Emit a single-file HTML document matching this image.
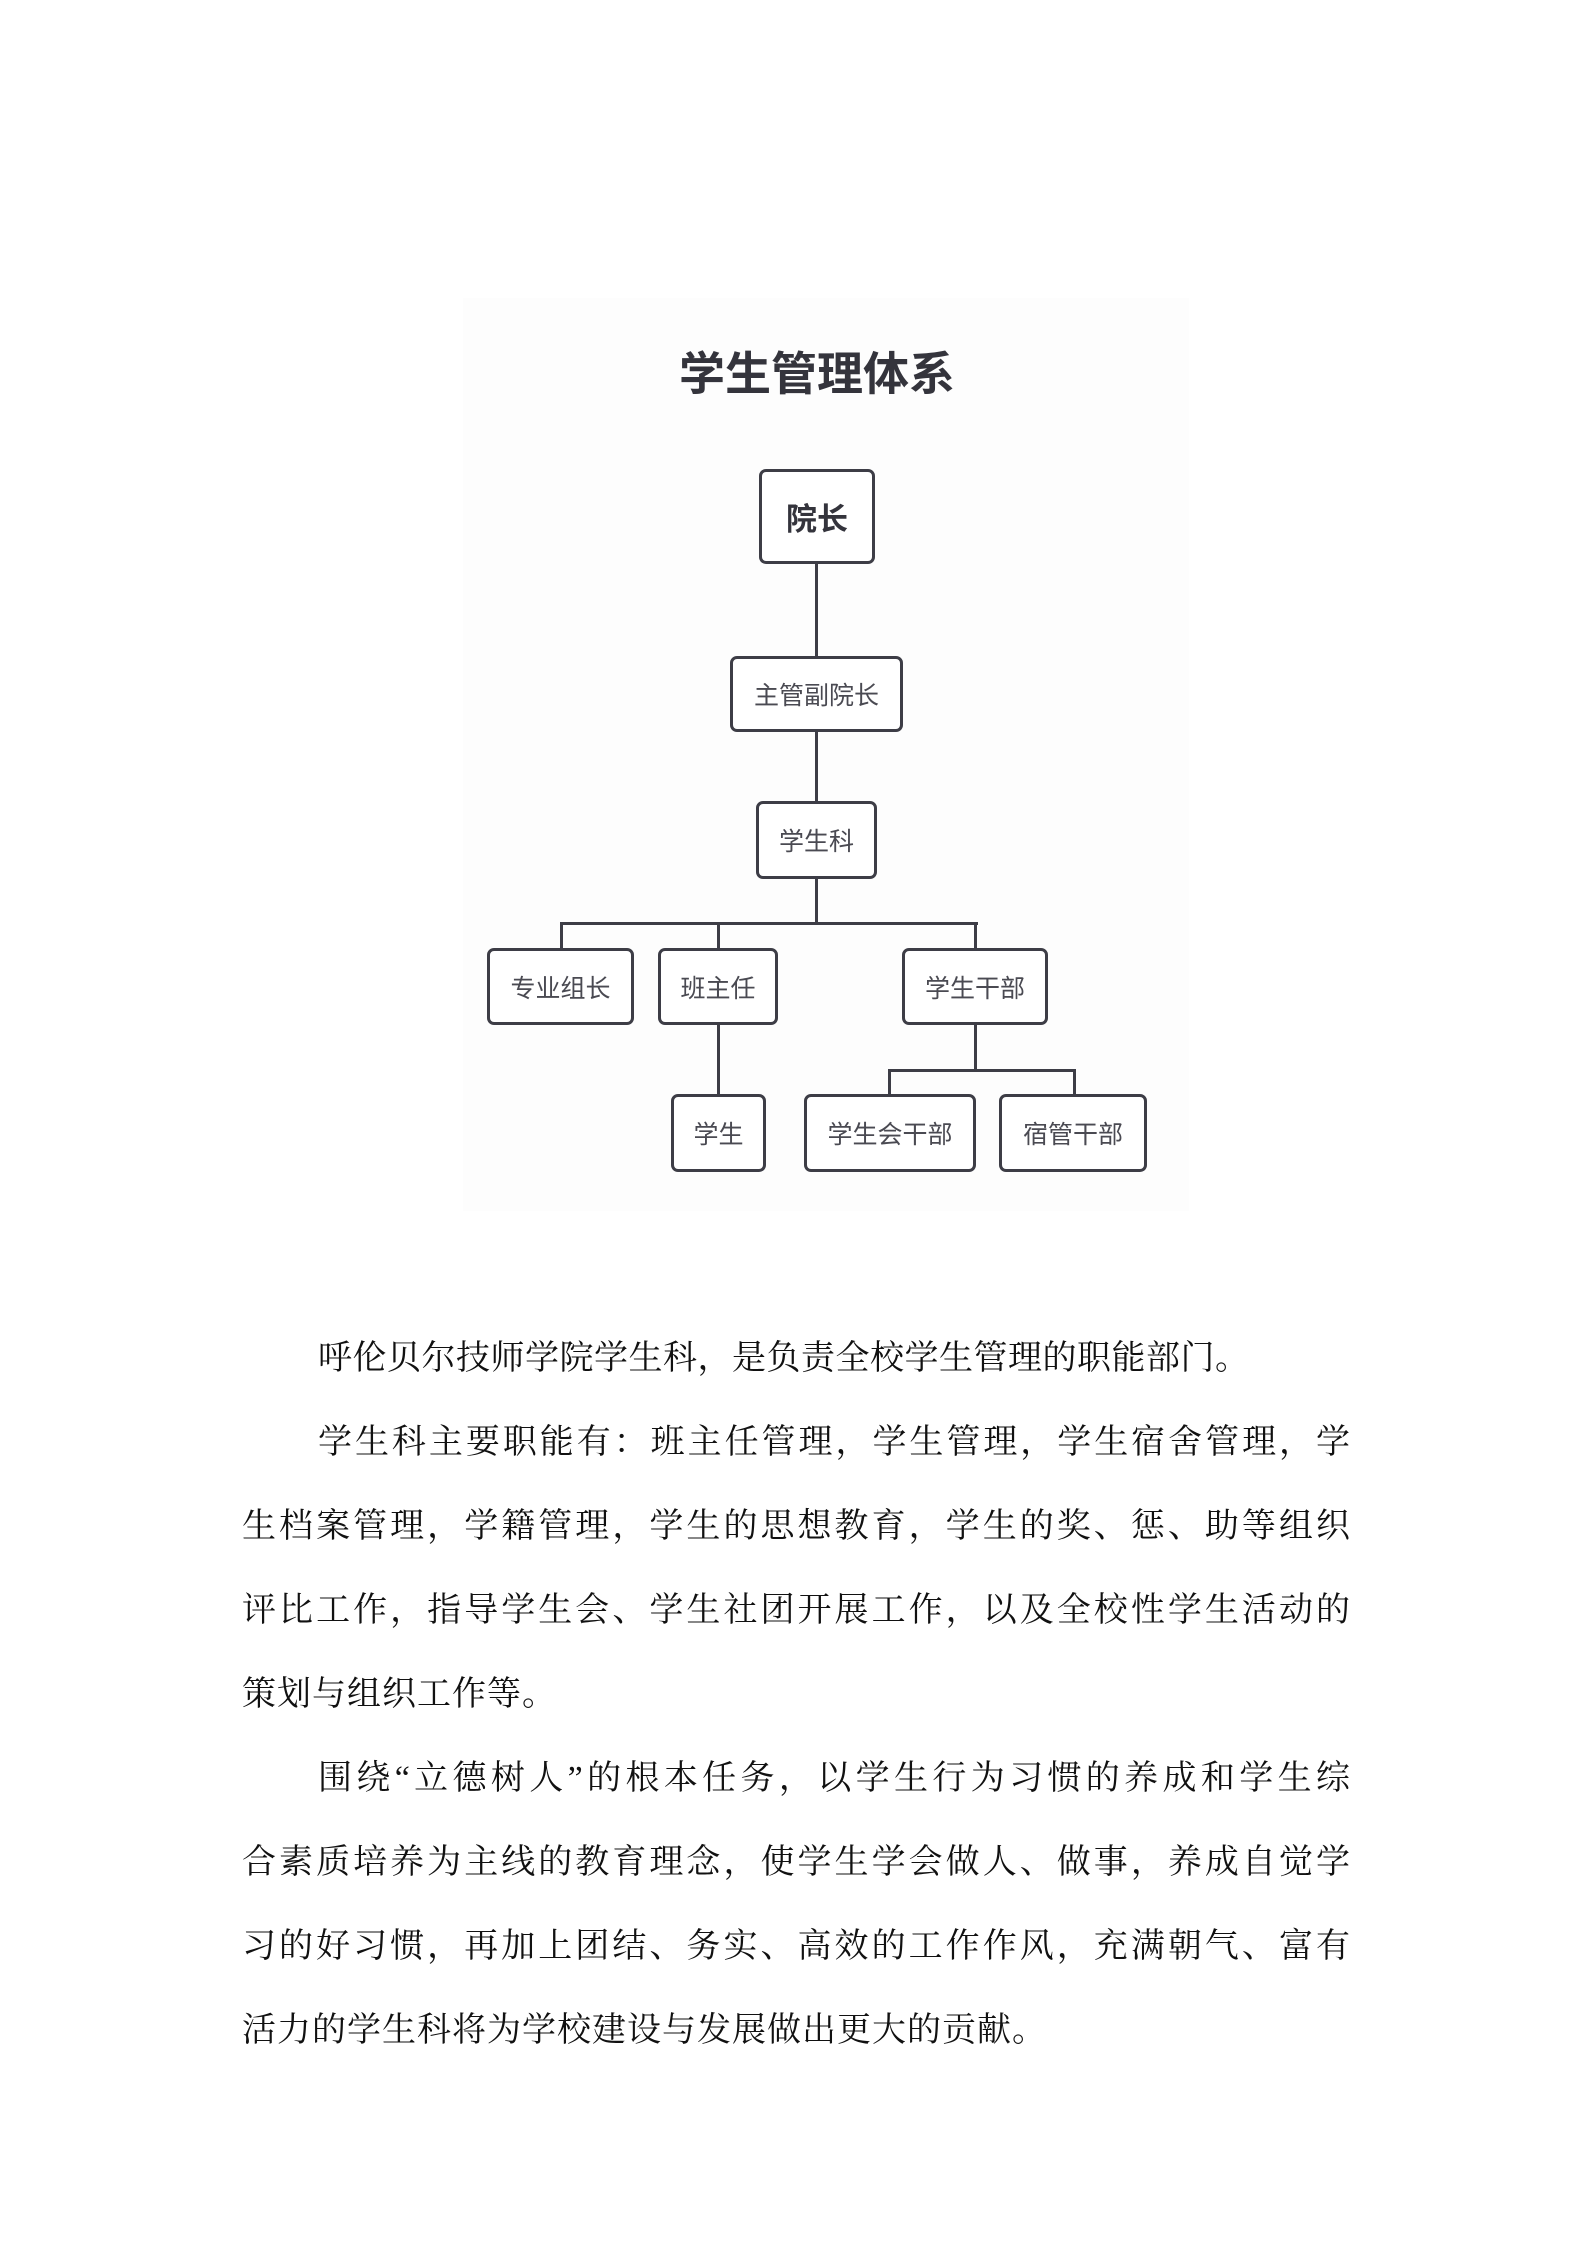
<!DOCTYPE html>
<html><head><meta charset="utf-8"><style>
html,body{margin:0;padding:0;background:#fff;}
body{width:1587px;height:2245px;position:relative;overflow:hidden;font-family:"Liberation Sans","Noto Sans CJK SC",sans-serif;}
.d{position:absolute;left:-3px;top:-3px;width:1587px;height:1300px;}
.bg{position:absolute;left:463px;top:298px;width:726px;height:913px;background:#fdfdfd;}
.title{position:absolute;left:620px;width:400px;top:348px;text-align:center;font-size:46px;font-weight:bold;color:#34343c;line-height:58px;}
.n{position:absolute;box-sizing:border-box;border:3px solid #3d3d46;border-radius:7px;background:#fff;display:flex;align-items:center;justify-content:center;font-size:25px;color:#4a4a52;}
.l{position:absolute;background:#3d3d46;}
.p{position:absolute;left:242px;width:1108px;font-family:"Liberation Serif","Noto Serif CJK SC",serif;font-size:34px;color:#111;line-height:84px;}
.ln{height:84px;text-align:justify;text-align-last:justify;white-space:nowrap;}
</style></head><body>
<div class="bg"></div>
<div class="d">
<div class="title">学生管理体系</div>
<div class="l" style="left:818px;top:565px;width:3px;height:96px"></div>
<div class="l" style="left:818px;top:733px;width:3px;height:73px"></div>
<div class="l" style="left:818px;top:880px;width:3px;height:48px"></div>
<div class="l" style="left:563px;top:925px;width:418px;height:3px"></div>
<div class="l" style="left:563px;top:925px;width:3px;height:28px"></div>
<div class="l" style="left:720px;top:925px;width:3px;height:28px"></div>
<div class="l" style="left:977px;top:925px;width:3px;height:28px"></div>
<div class="l" style="left:720px;top:1026px;width:3px;height:73px"></div>
<div class="l" style="left:977px;top:1026px;width:3px;height:48px"></div>
<div class="l" style="left:891px;top:1072px;width:188px;height:3px"></div>
<div class="l" style="left:891px;top:1072px;width:3px;height:27px"></div>
<div class="l" style="left:1076px;top:1072px;width:3px;height:27px"></div>
<div class="n" style="left:762px;top:472px;width:116px;height:95px;font-size:31px;font-weight:bold;color:#34343c">院长</div>
<div class="n" style="left:733px;top:659px;width:173px;height:76px">主管副院长</div>
<div class="n" style="left:759px;top:804px;width:121px;height:78px">学生科</div>
<div class="n" style="left:490px;top:951px;width:147px;height:77px">专业组长</div>
<div class="n" style="left:661px;top:951px;width:120px;height:77px">班主任</div>
<div class="n" style="left:905px;top:951px;width:146px;height:77px">学生干部</div>
<div class="n" style="left:674px;top:1097px;width:95px;height:78px">学生</div>
<div class="n" style="left:807px;top:1097px;width:172px;height:78px">学生会干部</div>
<div class="n" style="left:1002px;top:1097px;width:148px;height:78px">宿管干部</div>
</div>
<div class="p" style="top:1317px">
<div class="ln" style="text-align:left;text-align-last:left;padding-left:76px;letter-spacing:0.5px">呼伦贝尔技师学院学生科，是负责全校学生管理的职能部门。</div>
<div class="ln" style="padding-left:76px">学生科主要职能有：班主任管理，学生管理，学生宿舍管理，学</div>
<div class="ln">生档案管理，学籍管理，学生的思想教育，学生的奖、惩、助等组织</div>
<div class="ln">评比工作，指导学生会、学生社团开展工作，以及全校性学生活动的</div>
<div class="ln" style="text-align:left;text-align-last:left;letter-spacing:1px">策划与组织工作等。</div>
<div class="ln" style="padding-left:76px">围绕“立德树人”的根本任务，以学生行为习惯的养成和学生综</div>
<div class="ln">合素质培养为主线的教育理念，使学生学会做人、做事，养成自觉学</div>
<div class="ln">习的好习惯，再加上团结、务实、高效的工作作风，充满朝气、富有</div>
<div class="ln" style="text-align:left;text-align-last:left;letter-spacing:1px">活力的学生科将为学校建设与发展做出更大的贡献。</div>
</div>
</body></html>
